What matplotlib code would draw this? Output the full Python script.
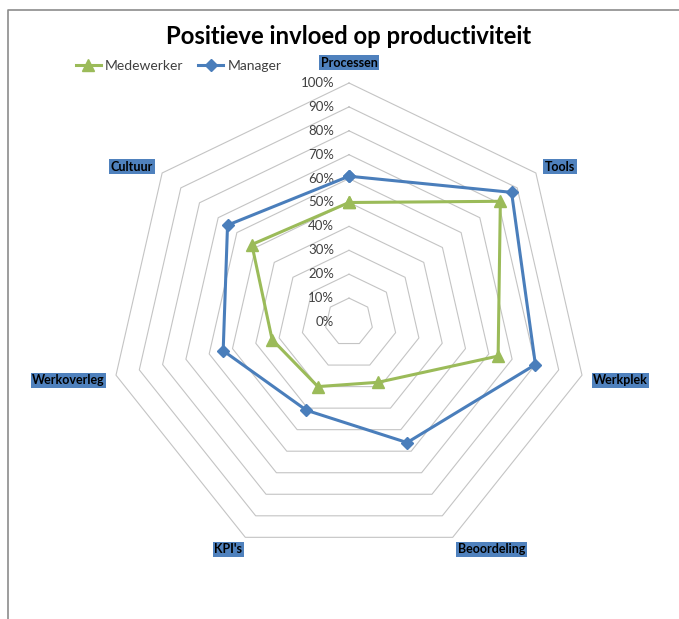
import numpy as np
import matplotlib.pyplot as plt
from matplotlib.lines import Line2D

# ── Data ─────────────────────────────────────────────────────────────────────
categories = ["Processen", "Tools", "Werkplek", "Beoordeling",
              "KPI's", "Werkoverleg", "Cultuur"]
medewerker = [50, 81, 64, 28, 30, 33, 52]
manager = [61, 87, 80, 56, 41, 54, 65]
ring_values = [10, 20, 30, 40, 50, 60, 70, 80, 90, 100]
tick_labels = ["0%", "10%", "20%", "30%", "40%", "50%",
               "60%", "70%", "80%", "90%", "100%"]

# label placement next to each outer vertex: (dx px, dy px, ha)
label_offsets = [(0, 20, "center"), (9, 6, "left"), (11, -5, "left"),
                 (5, -12, "left"), (-3, -12, "right"), (-11, -5, "right"),
                 (-9, 6, "right")]

GREEN = "#9BBB59"
BLUE = "#4A7EBB"
GRID = "#C4C4C4"
LABEL_BG = "#4F81BD"

W, H, DPI = 679, 619, 100
CX, CY, R = 349, 322, 239          # chart centre and 100% radius in pixels
scale = R / 100.0

n = len(categories)
angles = np.arange(n) * 2 * np.pi / n   # clockwise from the top


def to_xy(values):
    v = np.asarray(values, dtype=float)
    return v * np.sin(angles), v * np.cos(angles)


fig = plt.figure(figsize=(W / DPI, H / DPI), dpi=DPI)
fig.patch.set_facecolor("white")
ax = fig.add_axes([0, 0, 1, 1])
ax.set_xlim(-CX / scale, (W - CX) / scale)
ax.set_ylim(-(H - CY) / scale, CY / scale)
ax.axis("off")

# chart border (runs off the right and bottom edges)
fig.add_artist(Line2D([8 / W, 8 / W, 1.0], [0.0, 1 - 10 / H, 1 - 10 / H],
                      transform=fig.transFigure, color="#8C8C8C", lw=1.2))

# heptagon grid rings
for rv in ring_values:
    x, y = to_xy([rv] * n)
    ax.plot(np.append(x, x[0]), np.append(y, y[0]), color=GRID, lw=0.8,
            zorder=1)

# radial tick labels along the top axis
for i, lab in enumerate(tick_labels):
    ax.annotate(lab, (0, i * 10), xytext=(-15, 0), textcoords="offset pixels",
                ha="right", va="center", fontsize=9.5, color="#404040",
                family="Lato")

# series
for vals, col, mk, ms, name in [(medewerker, GREEN, "^", 8, "Medewerker"),
                                (manager, BLUE, "D", 6, "Manager")]:
    x, y = to_xy(vals)
    ax.plot(np.append(x, x[0]), np.append(y, y[0]), color=col, lw=2.2,
            marker=mk, markersize=ms, zorder=3, label=name)

# category labels
ox, oy = to_xy([100] * n)
for i, cat in enumerate(categories):
    dx, dy, ha = label_offsets[i]
    ax.annotate(cat, (ox[i], oy[i]), xytext=(dx, dy),
                textcoords="offset pixels", ha=ha, va="center",
                fontsize=9, fontweight="bold", color="black", family="Lato",
                bbox=dict(boxstyle="square,pad=0.12", fc=LABEL_BG, ec="none"))

fig.text(CX / W, 1 - 37 / H, "Positieve invloed op productiviteit",
         ha="center", va="center", fontsize=17.2, fontweight="bold",
         family="Lato")

fig.legend(loc="center left", bbox_to_anchor=(63 / W, 1 - 66 / H), ncol=2,
           frameon=False, handlelength=1.8, handletextpad=0.3,
           columnspacing=1.1, prop={"family": "Lato", "size": 10},
           labelcolor="#404040")

fig.savefig("out.png", dpi=DPI, facecolor="white")
